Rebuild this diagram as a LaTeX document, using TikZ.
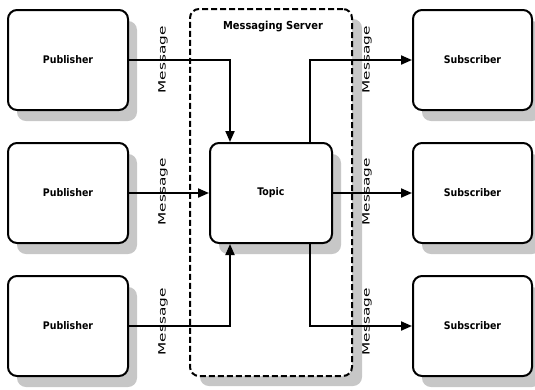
\documentclass[tikz,border=0pt]{standalone}
\usepackage{fontspec}
\setmainfont{DejaVu Sans Condensed}
\usetikzlibrary{arrows.meta,shadows}
\begin{document}
\begin{tikzpicture}[x=1pt,y=-1pt,
  shd/.style={drop shadow={shadow xshift=9pt,shadow yshift=-11pt,fill=black!22,opacity=1}},
  box/.style={draw=black,line width=2pt,rounded corners=9pt,fill=white,shd,
    minimum width=120pt,minimum height=100pt,font=\bfseries\fontsize{10.5}{12}\selectfont,inner sep=0pt},
  conn/.style={line width=2pt,-{Triangle[length=11pt,width=9pt]}},
  msg/.style={rotate=90,font=\fontsize{10}{12}\selectfont,inner sep=0pt,xscale=1.7}
]
\useasboundingbox (0,0) rectangle (535,389);
% server
\node[draw=black,line width=2pt,dash pattern=on 6pt off 3pt,rounded corners=9pt,fill=white,
  drop shadow={shadow xshift=10pt,shadow yshift=-10pt,fill=black!22,opacity=1},
  minimum width=162pt,minimum height=367pt,inner sep=0pt] (srv) at (271,192.5) {};
\node[font=\bfseries\fontsize{11}{13}\selectfont] (srvt) at (273,27) {Messaging Server};
% publishers
\node[box] (p1) at (68,60) {Publisher};
\node[box] (p2) at (68,193) {Publisher};
\node[box] (p3) at (68,326) {Publisher};
% topic
\node[box,minimum width=122pt] (t) at (271,193) {Topic};
% subscribers
\node[box,minimum width=119pt] (s1) at (472.5,60) {Subscriber};
\node[box,minimum width=119pt] (s2) at (472.5,193) {Subscriber};
\node[box,minimum width=119pt] (s3) at (472.5,326) {Subscriber};
% connectors
\coordinate (c1) at (230,60);
\coordinate (c3) at (230,326);
\coordinate (d1) at (310,60);
\coordinate (d3) at (310,326);
\draw[conn] (p1.east) -- (c1) -- (c1 |- t.north);
\draw[conn] (p2.east) -- (t.west);
\draw[conn] (p3.east) -- (c3) -- (c3 |- t.south);
\draw[conn] (d1 |- t.north) -- (d1) -- (s1.west);
\draw[conn] (t.east) -- (s2.west);
\draw[conn] (d3 |- t.south) -- (d3) -- (s3.west);
% labels
\node[msg] (m1) at (163,60) {Message};
\node[msg] (m2) at (163,192) {Message};
\node[msg] (m3) at (163,322) {Message};
\node[msg] (m4) at (367,60) {Message};
\node[msg] (m5) at (367,192) {Message};
\node[msg] (m6) at (367,322) {Message};
\end{tikzpicture}
\end{document}
